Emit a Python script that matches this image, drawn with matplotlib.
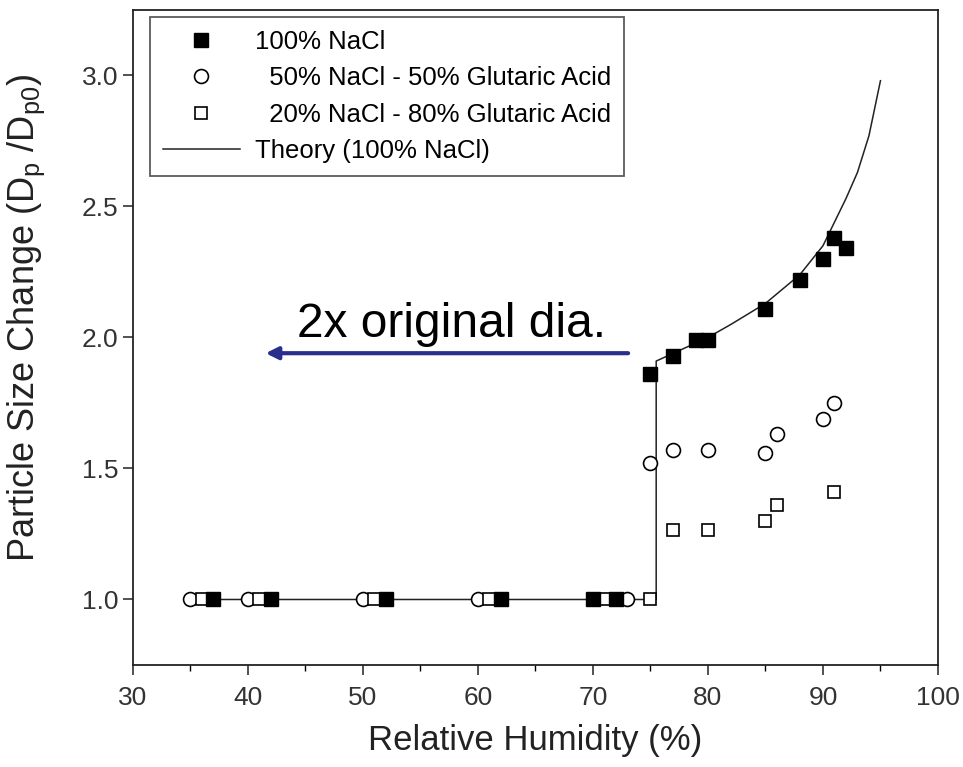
import matplotlib
matplotlib.use("Agg")
import matplotlib.pyplot as plt
from matplotlib.ticker import MultipleLocator

plt.rcParams['font.family'] = ['Liberation Sans', 'DejaVu Sans']
plt.rcParams['mathtext.fontset'] = 'custom'
plt.rcParams['mathtext.rm'] = 'Liberation Sans'

# 100% NaCl (filled squares)
nacl_rh = [37, 42, 52, 62, 70, 72, 75, 77, 79, 80, 85, 88, 90, 91, 92]
nacl_d = [1.0, 1.0, 1.0, 1.0, 1.0, 1.0, 1.86, 1.93, 1.99, 1.99, 2.11, 2.22, 2.30, 2.38, 2.34]

# 50% NaCl - 50% glutaric acid (open circles)
mix50_rh = [35, 40, 50, 60, 73, 75, 77, 80, 85, 86, 90, 91]
mix50_d = [1.0, 1.0, 1.0, 1.0, 1.0, 1.52, 1.57, 1.57, 1.56, 1.63, 1.69, 1.75]

# 20% NaCl - 80% glutaric acid (open squares)
mix20_rh = [36, 41, 51, 61, 71, 75, 77, 80, 85, 86, 91]
mix20_d = [1.0, 1.0, 1.0, 1.0, 1.0, 1.0, 1.265, 1.265, 1.30, 1.36, 1.41]

# theory curve for pure NaCl
theory_rh = [35, 75.5, 75.5, 77, 80, 82, 85, 88, 90, 91, 92, 93, 94, 95]
theory_d = [1.0, 1.0, 1.91, 1.94, 2.0, 2.05, 2.13, 2.24, 2.35, 2.44, 2.53, 2.63, 2.77, 2.98]

fig = plt.figure(figsize=(9.63, 7.67), dpi=100)
ax = fig.add_axes([0.138, 0.133, 0.836, 0.854])

ax.plot(theory_rh, theory_d, '-', color='#222222', lw=1.1, zorder=1,
        label='Theory (100% NaCl)')
ax.plot(nacl_rh, nacl_d, 's', color='black', ms=10, ls='none', zorder=3,
        label='100% NaCl')
ax.plot(mix50_rh, mix50_d, 'o', mfc='white', mec='black', mew=1.2, ms=10,
        ls='none', zorder=2, label='  50% NaCl - 50% Glutaric Acid')
ax.plot(mix20_rh, mix20_d, 's', mfc='white', mec='black', mew=1.2, ms=9,
        ls='none', zorder=2, label='  20% NaCl - 80% Glutaric Acid')

ax.set_xlim(30, 100)
ax.set_ylim(0.75, 3.25)
ax.xaxis.set_major_locator(MultipleLocator(10))
ax.xaxis.set_minor_locator(MultipleLocator(5))
ax.yaxis.set_major_locator(MultipleLocator(0.5))
ax.yaxis.set_major_formatter(plt.FormatStrFormatter('%.1f'))
ax.tick_params(axis='both', which='major', direction='out', length=7,
               width=1.2, labelsize=19, colors='#333333')
ax.tick_params(axis='x', which='major', pad=8)
ax.tick_params(axis='x', which='minor', direction='out', length=4, width=1.0)
for s in ax.spines.values():
    s.set_linewidth(1.3)
    s.set_color('#222222')

ax.set_xlabel('Relative Humidity (%)', fontsize=25, color='#222222', labelpad=10)
ax.set_ylabel(r'Particle Size Change (D$_\mathrm{p}$ /D$_\mathrm{p0}$)',
              fontsize=26, color='#222222')
ax.yaxis.set_label_coords(-0.107, 0.53)

handles, labels = ax.get_legend_handles_labels()
order = [1, 2, 3, 0]
leg = ax.legend([handles[i] for i in order], [labels[i] for i in order],
                loc='upper left', fontsize=18.5, frameon=True, fancybox=False,
                edgecolor='#333333', borderpad=0.5, labelspacing=0.48,
                handlelength=3.0, handletextpad=0.6, borderaxespad=0,
                bbox_to_anchor=(0.021, 0.989))
leg.get_frame().set_linewidth(1.3)

ax.annotate('', xy=(41.3, 1.94), xytext=(73.3, 1.94),
            arrowprops=dict(arrowstyle='-|>', color='#2a2f8c', lw=3,
                            mutation_scale=18))
ax.text(44.3, 1.965, '2x original dia.', fontsize=34.5, color='black',
        ha='left', va='bottom')

fig.savefig('out.png', dpi=100)
